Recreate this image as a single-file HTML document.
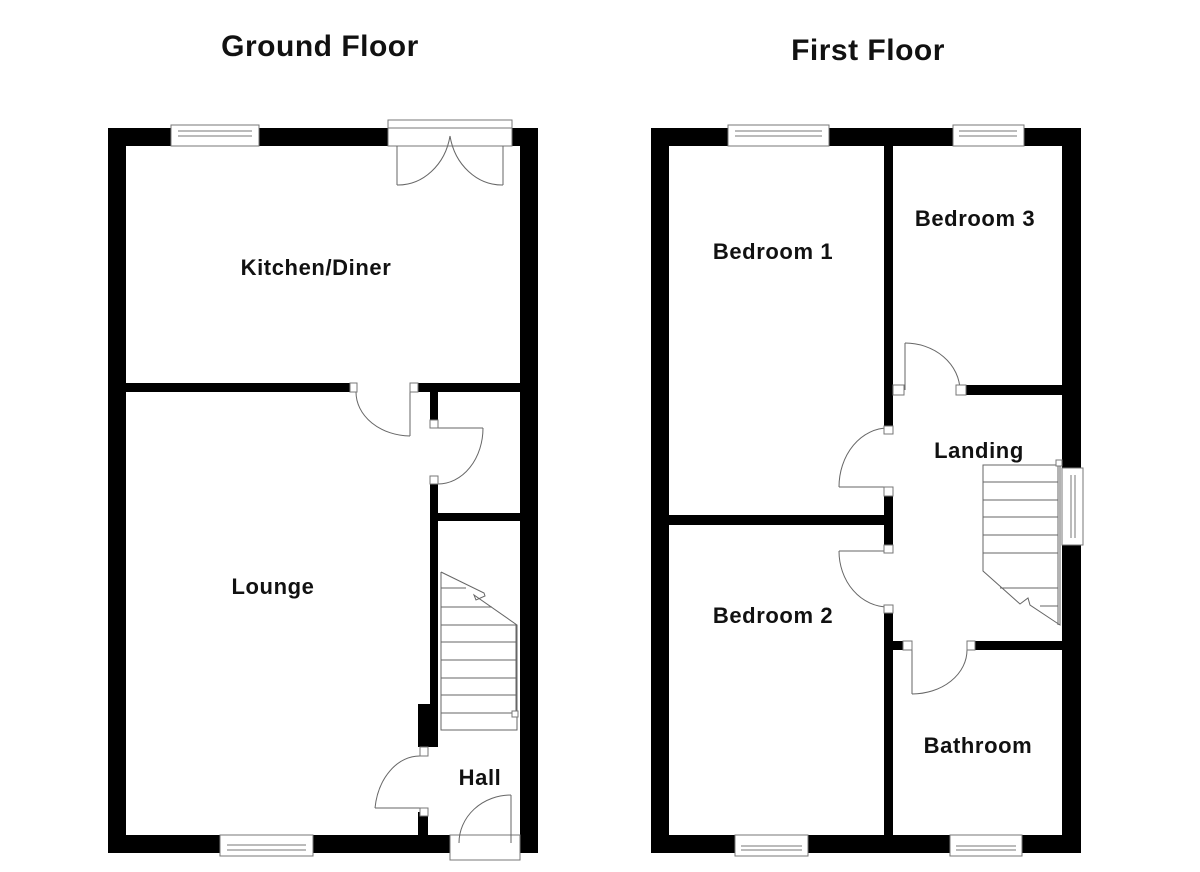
<!DOCTYPE html>
<html><head><meta charset="utf-8"><style>
html,body{margin:0;padding:0;background:#fff;width:1200px;height:872px;overflow:hidden}
svg{display:block}
text{font-family:"Liberation Sans",Arial,sans-serif;font-weight:bold;fill:#111}
</style></head><body>
<svg width="1200" height="872" viewBox="0 0 1200 872" xmlns="http://www.w3.org/2000/svg">
<text x="320" y="56" font-size="30" text-anchor="middle" letter-spacing="0.5">Ground Floor</text>
<text x="868" y="60" font-size="30" text-anchor="middle" letter-spacing="0.5">First Floor</text>

<g fill="#000">
<rect x="108" y="128" width="430" height="18"/>
<rect x="108" y="128" width="18" height="725"/>
<rect x="520" y="128" width="18" height="725"/>
<rect x="108" y="835" width="430" height="18"/>
<rect x="126" y="383" width="224" height="9"/>
<rect x="418" y="383" width="102" height="9"/>
<rect x="430" y="392" width="8" height="28"/>
<rect x="430" y="484" width="8" height="238"/>
<rect x="438" y="513" width="82" height="8"/>
<rect x="418" y="704" width="20" height="43"/>
<rect x="418" y="812" width="10" height="25"/>

<rect x="651" y="128" width="430" height="18"/>
<rect x="651" y="128" width="18" height="725"/>
<rect x="1062" y="128" width="19" height="725"/>
<rect x="651" y="835" width="430" height="18"/>
<rect x="884" y="146" width="9" height="280"/>
<rect x="966" y="385" width="96" height="10"/>
<rect x="884" y="487" width="9" height="58"/>
<rect x="669" y="515" width="215" height="10"/>
<rect x="884" y="607" width="9" height="230"/>
<rect x="893" y="641" width="10" height="9"/>
<rect x="975" y="641" width="87" height="9"/>
</g>

<g fill="#fff" stroke="#777" stroke-width="1">
<rect x="171" y="125" width="88" height="21"/>
<line x1="178" y1="131" x2="252" y2="131"/><line x1="178" y1="136" x2="252" y2="136"/>
<rect x="220" y="835" width="93" height="21"/>
<line x1="227" y1="845" x2="306" y2="845"/><line x1="227" y1="850" x2="306" y2="850"/>
<rect x="388" y="120" width="124" height="26"/>
<rect x="388" y="128" width="124" height="18" fill="#fff"/>
<rect x="450" y="835" width="70" height="25"/>
<rect x="728" y="125" width="101" height="21"/>
<line x1="735" y1="131" x2="822" y2="131"/><line x1="735" y1="136" x2="822" y2="136"/>
<rect x="953" y="125" width="71" height="21"/>
<line x1="959" y1="131" x2="1017" y2="131"/><line x1="959" y1="136" x2="1017" y2="136"/>
<rect x="735" y="835" width="73" height="21"/>
<line x1="741" y1="846" x2="802" y2="846"/><line x1="741" y1="850" x2="802" y2="850"/>
<rect x="950" y="835" width="72" height="21"/>
<line x1="956" y1="846" x2="1016" y2="846"/><line x1="956" y1="850" x2="1016" y2="850"/>
<rect x="1062" y="468" width="21" height="77"/>
<line x1="1071" y1="475" x2="1071" y2="538"/><line x1="1075" y1="475" x2="1075" y2="538"/>
</g>

<g fill="none" stroke="#666" stroke-width="1">
<line x1="397" y1="146" x2="397" y2="185"/>
<path d="M397 185 A53 60 0 0 0 450 136"/>
<line x1="503" y1="146" x2="503" y2="185"/>
<path d="M503 185 A53 60 0 0 1 450 136"/>
<line x1="410" y1="392" x2="410" y2="436"/>
<path d="M356 392 A55 44 0 0 0 410 436"/>
<line x1="438" y1="428" x2="483" y2="428"/>
<path d="M483 428 A45 56 0 0 1 438 484"/>
<line x1="375" y1="808" x2="420" y2="808"/>
<path d="M375 808 A45 60 0 0 1 420 756"/>
<line x1="511" y1="795" x2="511" y2="843"/>
<path d="M511 795 A52 48 0 0 0 459 843"/>
<path d="M441 572 L441 730 L517 730 L517 625 L474 595 L476 600 L485 596 L484 593 L441 572"/>
<line x1="441" y1="588" x2="466" y2="588"/>
<line x1="441" y1="607" x2="492" y2="607"/>
<line x1="441" y1="625" x2="516" y2="625"/>
<line x1="441" y1="642" x2="516" y2="642"/>
<line x1="441" y1="660" x2="516" y2="660"/>
<line x1="441" y1="678" x2="516" y2="678"/>
<line x1="441" y1="695" x2="516" y2="695"/>
<line x1="441" y1="713" x2="516" y2="713"/>
<line x1="516" y1="625" x2="516" y2="713"/>

<line x1="905" y1="343" x2="905" y2="390"/>
<path d="M905 343 A55 48 0 0 1 960 390"/>
<line x1="839" y1="487" x2="888" y2="487"/>
<path d="M839 487 A49 59 0 0 1 888 428"/>
<line x1="839" y1="551" x2="888" y2="551"/>
<path d="M839 551 A49 56 0 0 0 888 607"/>
<line x1="912" y1="650" x2="912" y2="694"/>
<path d="M912 694 A55 44 0 0 0 967 650"/>
<path d="M983 465 L1060 465 L1060 625 L1030 605 L1028 598 L1020 604 L983 571 Z"/>
<line x1="983" y1="482" x2="1058" y2="482"/>
<line x1="983" y1="500" x2="1058" y2="500"/>
<line x1="983" y1="517" x2="1058" y2="517"/>
<line x1="983" y1="535" x2="1058" y2="535"/>
<line x1="983" y1="553" x2="1058" y2="553"/>
<line x1="1000" y1="588" x2="1058" y2="588"/>
<line x1="1040" y1="606" x2="1058" y2="606"/>
<line x1="1058" y1="465" x2="1058" y2="625"/>
</g>

<g fill="#fff" stroke="#777" stroke-width="1">
<rect x="350" y="383" width="7" height="9"/><rect x="410" y="383" width="8" height="9"/>
<rect x="430" y="420" width="8" height="8"/><rect x="430" y="476" width="8" height="8"/>
<rect x="420" y="747" width="8" height="9"/><rect x="420" y="808" width="8" height="8"/>
<rect x="893" y="385" width="11" height="10"/><rect x="956" y="385" width="10" height="10"/>
<rect x="884" y="426" width="9" height="8"/><rect x="884" y="487" width="9" height="9"/>
<rect x="884" y="545" width="9" height="8"/><rect x="884" y="605" width="9" height="8"/>
<rect x="903" y="641" width="9" height="9"/><rect x="967" y="641" width="8" height="9"/>
<rect x="1056" y="460" width="6" height="6"/>
<rect x="512" y="711" width="6" height="6"/>
</g>

<g font-size="22" text-anchor="middle" letter-spacing="0.6">
<text x="316" y="275">Kitchen/Diner</text>
<text x="273" y="594">Lounge</text>
<text x="480" y="785">Hall</text>
<text x="773" y="259">Bedroom 1</text>
<text x="975" y="226">Bedroom 3</text>
<text x="979" y="458">Landing</text>
<text x="773" y="623">Bedroom 2</text>
<text x="978" y="753">Bathroom</text>
</g>
</svg>
</body></html>
